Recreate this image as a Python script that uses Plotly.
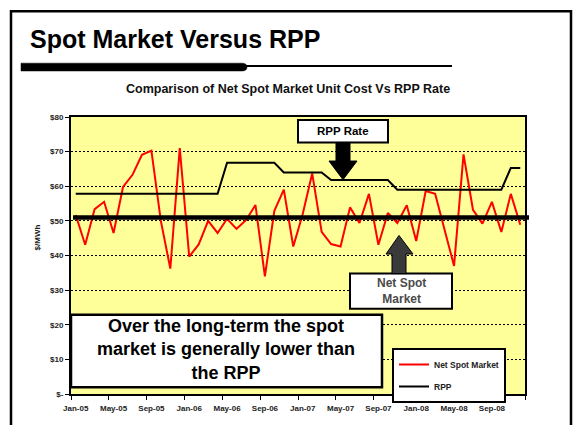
import plotly.graph_objects as go

# ---------------- data ----------------
months = ["Jan-05", "Feb-05", "Mar-05", "Apr-05", "May-05", "Jun-05", "Jul-05", "Aug-05",
          "Sep-05", "Oct-05", "Nov-05", "Dec-05", "Jan-06", "Feb-06", "Mar-06", "Apr-06",
          "May-06", "Jun-06", "Jul-06", "Aug-06", "Sep-06", "Oct-06", "Nov-06", "Dec-06",
          "Jan-07", "Feb-07", "Mar-07", "Apr-07", "May-07", "Jun-07", "Jul-07", "Aug-07",
          "Sep-07", "Oct-07", "Nov-07", "Dec-07", "Jan-08", "Feb-08", "Mar-08", "Apr-08",
          "May-08", "Jun-08", "Jul-08", "Aug-08", "Sep-08", "Oct-08", "Nov-08", "Dec-08"]

net_spot = [51.7, 43.1, 53.4, 55.5, 46.5, 59.8, 63.3, 69.1,
            70.3, 50.0, 36.2, 71.0, 39.7, 43.2, 50.0, 46.5,
            50.6, 47.7, 50.2, 54.6, 34.0, 52.9, 59.0, 42.6,
            52.0, 63.7, 46.8, 43.3, 42.6, 53.9, 49.4, 57.8,
            43.1, 52.3, 49.4, 54.5, 44.2, 58.6, 57.8, 47.5,
            37.0, 69.2, 53.2, 49.2, 55.5, 46.8, 57.8, 48.9]

rpp = [57.8, 57.8, 57.8, 57.8, 57.8, 57.8, 57.8, 57.8,
       57.8, 57.8, 57.8, 57.8, 57.8, 57.8, 57.8, 57.8,
       66.8, 66.8, 66.8, 66.8, 66.8, 66.8, 64.0, 64.0,
       64.0, 64.0, 64.0, 61.8, 61.8, 61.8, 61.8, 61.8,
       61.8, 61.8, 59.0, 59.0, 59.0, 59.0, 59.0, 59.0,
       59.0, 59.0, 59.0, 59.0, 59.0, 59.0, 65.3, 65.3]

reference_level = 51

y_ticks = [0, 10, 20, 30, 40, 50, 60, 70, 80]
y_tick_labels = ["$-", "$10", "$20", "$30", "$40", "$50", "$60", "$70", "$80"]

# ---------------- layout helpers ----------------
W, H = 576, 425
L, R, T, B = 71, 51, 117, 25
FONT = "Liberation Sans, Arial, Helvetica, sans-serif"


def PX(x):
    return (x - L) / (W - L - R)


def PY(y):
    return (H - B - y) / (H - T - B)


def path(points, close=True):
    s = "M " + " L ".join(f"{PX(x):.5f},{PY(y):.5f}" for x, y in points)
    return s + (" Z" if close else "")


idx = list(range(len(months)))

fig = go.Figure()
fig.add_trace(go.Scatter(x=idx, y=net_spot, mode="lines", name="Net Spot Market",
                         line=dict(color="#ff0000", width=2), legendgroup="a"))
fig.add_trace(go.Scatter(x=idx, y=rpp, mode="lines", name="RPP",
                         line=dict(color="black", width=2), legendgroup="b"))

shapes = []
# thick reference line
shapes.append(dict(type="line", xref="paper", yref="y", x0=PX(73), x1=PX(529),
                   y0=reference_level, y1=reference_level,
                   line=dict(color="black", width=4.5), layer="above"))
# long-term text box
shapes.append(dict(type="rect", xref="paper", yref="paper", x0=PX(71), x1=PX(382),
                   y0=PY(393), y1=PY(319), fillcolor="white",
                   line=dict(color="black", width=2.5), layer="above"))
# RPP Rate box
shapes.append(dict(type="rect", xref="paper", yref="paper", x0=PX(298), x1=PX(388),
                   y0=PY(143), y1=PY(120), fillcolor="white",
                   line=dict(color="black", width=2), layer="above"))
# down arrow
shapes.append(dict(type="path", xref="paper", yref="paper",
                   path=path([(336, 143), (350, 143), (350, 162), (357, 162),
                              (343, 181), (329, 162), (336, 162)]),
                   fillcolor="black", line=dict(color="black", width=1), layer="above"))
# Net Spot Market box
shapes.append(dict(type="rect", xref="paper", yref="paper", x0=PX(350), x1=PX(452),
                   y0=PY(313), y1=PY(277), fillcolor="white",
                   line=dict(color="black", width=2), layer="above"))
# up arrow
shapes.append(dict(type="path", xref="paper", yref="paper",
                   path=path([(392, 277), (406, 277), (406, 257), (413, 257),
                              (399, 238), (386, 257), (392, 257)]),
                   fillcolor="#3a3a3a", line=dict(color="black", width=1), layer="above"))
# slide border
shapes.append(dict(type="rect", xref="paper", yref="paper", x0=PX(11), x1=PX(571),
                   y0=PY(440), y1=PY(9), fillcolor="rgba(0,0,0,0)",
                   line=dict(color="black", width=2.5), layer="above"))
# title bar (thick, rounded end) and thin line
shapes.append(dict(type="path", xref="paper", yref="paper",
                   path=(f"M {PX(21):.5f},{PY(62):.5f} L {PX(242):.5f},{PY(62):.5f} "
                         f"Q {PX(247):.5f},{PY(62):.5f} {PX(247):.5f},{PY(66):.5f} "
                         f"Q {PX(247):.5f},{PY(70):.5f} {PX(242):.5f},{PY(70):.5f} "
                         f"L {PX(21):.5f},{PY(70):.5f} Z"),
                   fillcolor="black", line=dict(color="black", width=0.5), layer="above"))
shapes.append(dict(type="line", xref="paper", yref="paper", x0=PX(246), x1=PX(452),
                   y0=PY(65), y1=PY(65), line=dict(color="black", width=2), layer="above"))

annotations = [
    dict(text="Spot Market Versus RPP", x=PX(28), y=PY(37), xanchor="left", yanchor="middle",
         font=dict(family=FONT, size=25, color="black", weight="bold")),
    dict(text="Comparison of Net Spot Market Unit Cost Vs RPP Rate", x=PX(288), y=PY(88),
         xanchor="center", yanchor="middle",
         font=dict(family=FONT, size=12.5, color="#111111", weight="bold")),
    dict(text="Over the long-term the spot<br>market is generally lower than<br>the RPP",
         x=PX(226), y=PY(355), xanchor="center", yanchor="middle", align="center",
         font=dict(family=FONT, size=18, color="black", weight="bold")),
    dict(text="RPP Rate", x=PX(343), y=PY(131.5), xanchor="center", yanchor="middle",
         font=dict(family=FONT, size=11.5, color="black", weight="bold")),
    dict(text="Net Spot<br>Market", x=PX(401), y=PY(295), xanchor="center", yanchor="middle",
         align="center", font=dict(family=FONT, size=12, color="#4a4a4a", weight="bold")),
    dict(text="$/MWh", x=PX(37), y=PY(240), xanchor="center", yanchor="middle", textangle=-90,
         font=dict(family=FONT, size=8, color="#222222", weight="bold")),
]
for a in annotations:
    a.update(xref="paper", yref="paper", showarrow=False)

fig.update_layout(
    width=W, height=H,
    margin=dict(l=L, r=R, t=T, b=B, pad=0),
    paper_bgcolor="white",
    plot_bgcolor="#FFFF99",
    font=dict(family=FONT, color="#222222"),
    shapes=shapes,
    annotations=annotations,
    showlegend=True,
    legend=dict(x=PX(392), y=PY(353), xanchor="left", yanchor="top",
                bgcolor="white", bordercolor="black", borderwidth=2,
                font=dict(family=FONT, size=8.5, color="#222222", weight="bold"),
                tracegroupgap=3, itemwidth=30),
    xaxis=dict(range=[-0.5, len(months) - 0.5],
               tickvals=idx[::4], ticktext=months[::4],
               ticks="outside", ticklen=5, tickcolor="rgba(0,0,0,0)",
               tickfont=dict(family=FONT, size=8, color="#222222", weight="bold"),
               showline=True, linecolor="black", linewidth=2, mirror=True,
               showgrid=False, zeroline=False, fixedrange=True,
               minor=dict(tickvals=[i - 0.5 for i in range(0, len(months) + 1, 4)],
                          ticks="outside", ticklen=4, tickcolor="black", tickwidth=1,
                          showgrid=False)),
    yaxis=dict(range=[0, 80], tickvals=y_ticks, ticktext=y_tick_labels,
               ticks="outside", ticklen=4, tickcolor="black", tickwidth=1,
               tickfont=dict(family=FONT, size=8, color="#222222", weight="bold"),
               showline=True, linecolor="black", linewidth=2, mirror=True,
               showgrid=True, gridcolor="black", gridwidth=1, griddash="2px,2px",
               zeroline=False, fixedrange=True),
)

fig.write_html("out.html", config={"displayModeBar": False},
               post_script="document.body.style.margin='0';")
